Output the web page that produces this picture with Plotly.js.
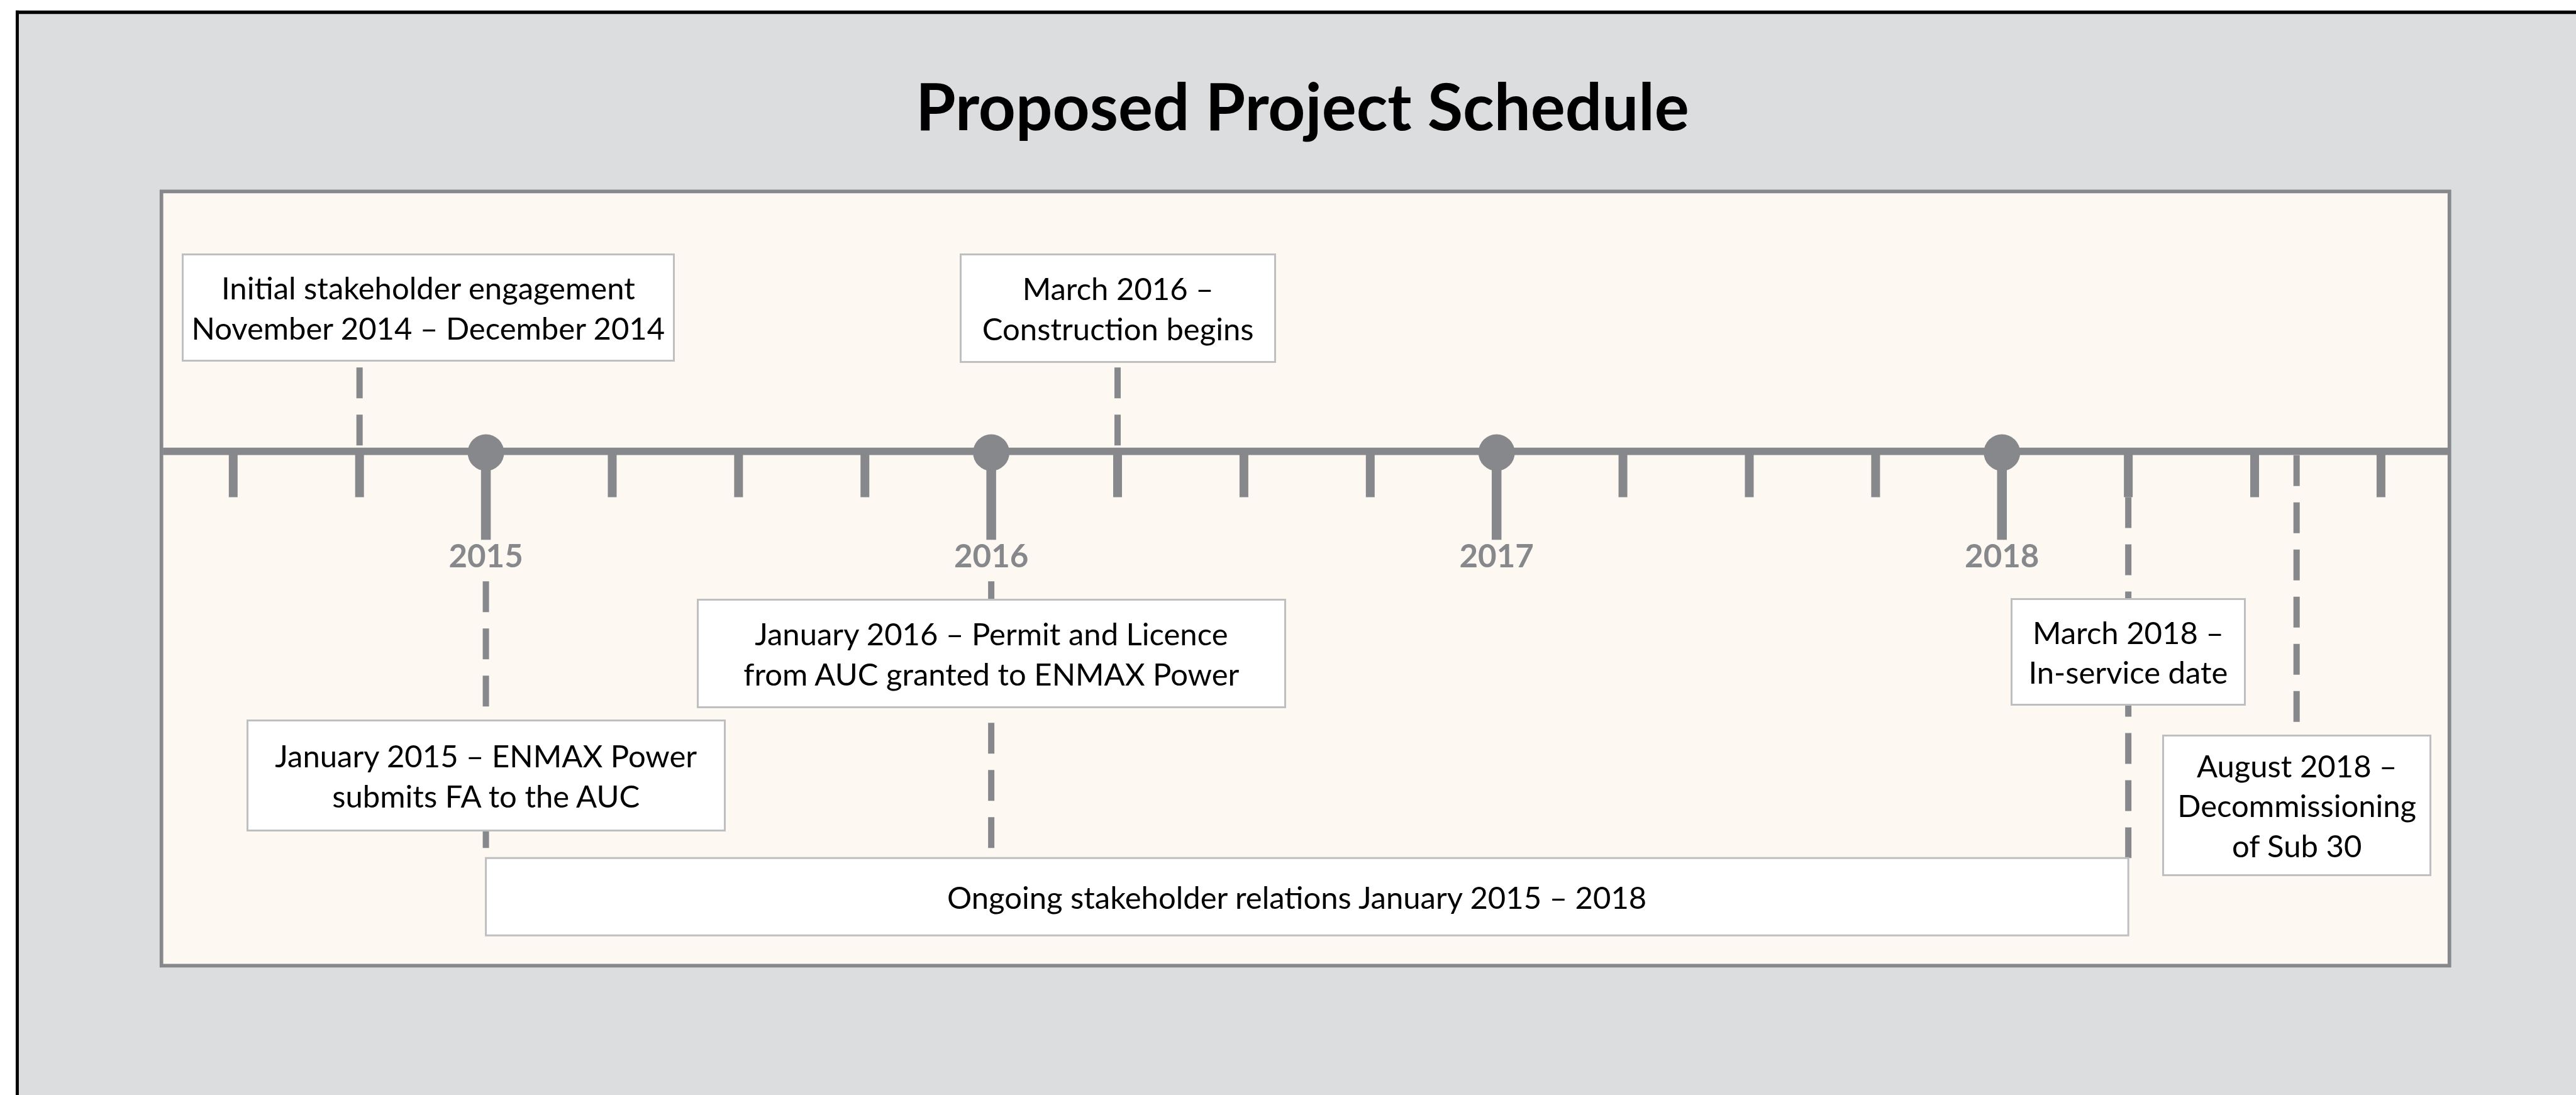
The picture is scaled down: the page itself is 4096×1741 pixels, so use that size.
<!DOCTYPE html>
<html>
<head>
<meta charset="utf-8">
<script src="https://cdn.plot.ly/plotly-3.0.1.min.js"></script>
<style>
  html, body { margin: 0; padding: 0; background: #ffffff; }
  #chart { width: 4096px; height: 1741px; }
</style>
</head>
<body>
<div id="chart"></div>
<script>
// ---------------- DATA ----------------
const chartTitle = "Proposed Project Schedule";
const yearTicks = [2015, 2016, 2017, 2018];
const yearLabels = ["2015", "2016", "2017", "2018"];
const quarterTicks = [2014.5, 2014.75, 2015.25, 2015.5, 2015.75, 2016.25, 2016.5, 2016.75,
                      2017.25, 2017.5, 2017.75, 2018.25, 2018.5, 2018.75];
const eventPositions = [2014.75, 2015, 2016, 2016.25, 2018.25, 2018.583];
const eventLabels = [
  "Initial stakeholder engagement<br>November 2014 – December 2014",
  "January 2015 – ENMAX Power<br>submits FA to the AUC",
  "January 2016 – Permit and Licence<br>from AUC granted to ENMAX Power",
  "March 2016 –<br>Construction begins",
  "March 2018 –<br>In-service date",
  "August 2018 –<br>Decommissioning<br>of Sub 30"
];
const ongoingStart = 2015;
const ongoingEnd = 2018.25;
const ongoingLabel = "Ongoing stakeholder relations January 2015 – 2018";

// ---------------- LAYOUT GEOMETRY (reference pixels, scaled) ----------------
const S = 4096 / 5026;
const WOUT = 4096, HOUT = 1741;
const M = { l: 257, r: 201, t: 304, b: 205 };
const PW = WOUT - M.l - M.r;
const PH = HOUT - M.t - M.b;
const paperX = xo => (xo * S - M.l) / PW;
const paperY = yo => 1 - (yo * S - M.t) / PH;

const pxPerYear = 986 * S;
const xMin = 2015 - (948 * S - M.l) / pxPerYear;
const xMax = xMin + PW / pxPerYear;

const GRAY = "#87888C";
const BOXLINE = "#BEBFC1";
const FONT = "Lato, 'Open Sans', sans-serif";

// per-event box layout: [centre y, width, height, xshift, connector y0, connector y1] in reference px
const boxGeom = [
  [600.5, 958, 207, 134, 717, 880],
  [1512.5, 931, 215, 0, 1134, 1674],
  [1275, 1146, 210, 0, 1134, 1674],
  [601, 614, 210, 0, 717, 880],
  [1272, 455, 206, 0, 970, 1674],
  [1571, 522, 272, 0, 888, 1435]
];

const yAxisLine = paperY(880.5);
const yTickEnd = paperY(970);
const yStemEnd = paperY(1053);
const yDot = paperY(883);
const yYearLbl = paperY(1091);

// ---------------- TRACES ----------------
const traces = [];

// dashed connectors
const cx = [], cy = [];
eventPositions.forEach((p, i) => {
  cx.push(p, p, null);
  cy.push(paperY(boxGeom[i][4]), paperY(boxGeom[i][5]), null);
});
traces.push({
  type: "scatter", mode: "lines", x: cx, y: cy, hoverinfo: "skip",
  line: { color: GRAY, width: 10, dash: "49px,26px" }, showlegend: false
});

// quarter ticks
const tx = [], ty = [];
quarterTicks.forEach(q => { tx.push(q, q, null); ty.push(yAxisLine, yTickEnd, null); });
traces.push({
  type: "scatter", mode: "lines", x: tx, y: ty, hoverinfo: "skip",
  line: { color: GRAY, width: 14 }, showlegend: false
});

// year stems
const sx = [], sy = [];
yearTicks.forEach(q => { sx.push(q, q, null); sy.push(yAxisLine, yStemEnd, null); });
traces.push({
  type: "scatter", mode: "lines", x: sx, y: sy, hoverinfo: "skip",
  line: { color: GRAY, width: 15.5 }, showlegend: false
});

// year dots
traces.push({
  type: "scatter", mode: "markers", x: yearTicks, y: yearTicks.map(() => yDot),
  marker: { color: GRAY, size: 58, line: { width: 0 } }, hoverinfo: "skip", showlegend: false
});

// year labels
traces.push({
  type: "scatter", mode: "text", x: yearTicks, y: yearTicks.map(() => yYearLbl),
  text: yearLabels, textposition: "middle center",
  textfont: { family: FONT, size: 51, color: GRAY, weight: "bold" },
  hoverinfo: "skip", showlegend: false
});

// ---------------- SHAPES ----------------
const shapes = [
  // outer grey card
  { type: "rect", xref: "paper", yref: "paper", layer: "below",
    x0: paperX(33.7), x1: paperX(5100), y0: paperY(24), y1: paperY(2200),
    fillcolor: "#DCDDDF", line: { width: 0 } },
  // black frame top & left
  { type: "line", xref: "paper", yref: "paper", layer: "below",
    x0: paperX(30.7), x1: paperX(5100), y0: paperY(24), y1: paperY(24),
    line: { color: "#000000", width: 5.4 } },
  { type: "line", xref: "paper", yref: "paper", layer: "below",
    x0: paperX(33.7), x1: paperX(33.7), y0: paperY(20.7), y1: paperY(2200),
    line: { color: "#000000", width: 5 } },
  // cream panel
  { type: "rect", xref: "paper", yref: "paper", layer: "below",
    x0: paperX(315), x1: paperX(4779), y0: paperY(373.5), y1: paperY(1884),
    fillcolor: "#FDF8F2", line: { color: GRAY, width: 5.7 } },
  // timeline axis line
  { type: "line", xref: "paper", yref: "y", layer: "below",
    x0: paperX(318), x1: paperX(4776), y0: yAxisLine, y1: yAxisLine,
    line: { color: GRAY, width: 11.7 } },
  // ongoing box
  { type: "rect", xref: "x", yref: "y", layer: "above",
    x0: ongoingStart, x1: ongoingEnd, y0: paperY(1674), y1: paperY(1825),
    fillcolor: "#FFFFFF", line: { color: BOXLINE, width: 3 } }
];

// ---------------- ANNOTATIONS ----------------
const annotations = [];
annotations.push({
  text: chartTitle, xref: "paper", yref: "paper", x: paperX(2541), y: paperY(205),
  xanchor: "center", yanchor: "middle", showarrow: false,
  font: { family: FONT, size: 103, color: "#000000", weight: "bold" }
});
eventPositions.forEach((p, i) => {
  const g = boxGeom[i];
  annotations.push({
    text: eventLabels[i], xref: "x", yref: "y", x: p, y: paperY(g[0]),
    xshift: g[3] * S, xanchor: "center", yanchor: "middle",
    width: g[1] * S - 3, height: g[2] * S - 3, align: "center", valign: "middle",
    bgcolor: "#FFFFFF", bordercolor: BOXLINE, borderwidth: 3, borderpad: 0,
    showarrow: false, font: { family: FONT, size: 49, color: "#000000" }
  });
});
annotations.push({
  text: ongoingLabel, xref: "x", yref: "y", x: (ongoingStart + ongoingEnd) / 2,
  xshift: -16, y: paperY(1749.5), xanchor: "center", yanchor: "middle",
  showarrow: false, font: { family: FONT, size: 49, color: "#000000" }
});

const layout = {
  width: WOUT, height: HOUT,
  margin: M,
  paper_bgcolor: "#FFFFFF",
  plot_bgcolor: "rgba(0,0,0,0)",
  showlegend: false,
  xaxis: { range: [xMin, xMax], visible: false, fixedrange: true },
  yaxis: { range: [0, 1], visible: false, fixedrange: true },
  shapes: shapes,
  annotations: annotations
};

Plotly.newPlot("chart", traces, layout, { staticPlot: true, displayModeBar: false });
</script>
</body>
</html>
